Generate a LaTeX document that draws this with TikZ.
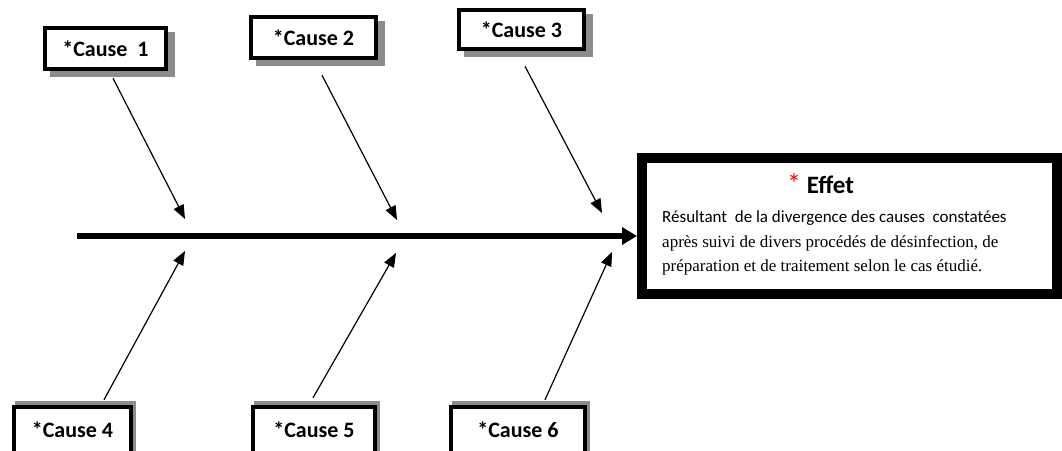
\documentclass[tikz,border=0pt]{standalone}
\usepackage{fontspec}
\setmainfont{Carlito}
\newfontfamily\tnr{Liberation Serif}
\usetikzlibrary{arrows.meta,backgrounds}
\tikzset{
  causebox/.style={draw=black, line width=4.5pt, fill=white, inner sep=0pt,
    font=\fontsize{22}{26}\selectfont\bfseries, minimum height=41pt},
  shadowfill/.style={fill=black!45},
  causearrow/.style={line width=1.2pt, -{Triangle[length=14pt,width=11pt]}},
  spinearrow/.style={line width=6pt, -{Triangle[length=15pt,width=17pt]}},
  effetbox/.style={draw=black, line width=10pt, fill=white, minimum width=415pt, minimum height=136pt, inner sep=0pt},
  bodysans/.style={anchor=base west, inner sep=0pt, font=\fontsize{17}{20}\selectfont},
  bodyserif/.style={anchor=base west, inner sep=0pt, font=\tnr\fontsize{17}{20}\selectfont},
}
\begin{document}
\begin{tikzpicture}[x=1pt,y=-1pt]
\useasboundingbox (0,0) rectangle (1062,450);
\clip (0,0) rectangle (1062,450);

% cause boxes
\node[causebox, minimum width=121pt] (c1) at (105.5,48.5) {*Cause\ \ 1};
\node[causebox, minimum width=125pt] (c2) at (313.5,37.5) {*Cause 2};
\node[causebox, minimum width=125pt, minimum height=39pt] (c3) at (521.5,29.5) {*Cause 3};
\node[causebox, minimum width=117pt, minimum height=46pt] (c4) at (72.5,430) {*Cause 4\hspace{8pt}};
\node[causebox, minimum width=122pt, minimum height=46pt] (c5) at (314,430) {*Cause 5};
\node[causebox, minimum width=134pt, minimum height=46pt] (c6) at (518,430) {*Cause 6};

\begin{scope}[on background layer]
  \fill[white] (0,0) rectangle (1062,450);
  \foreach \n in {c1,c2,c3}
    \fill[shadowfill] ([shift={(7,6)}]\n.north west) rectangle ([shift={(7,6)}]\n.south east);
  \foreach \n in {c4,c5,c6}
    \fill[shadowfill] ([shift={(3,-4)}]\n.north west) rectangle ([shift={(3,-4)}]\n.south east);
\end{scope}

% effect box
\node[effetbox] (eff) at (849.5,226) {};
\node[anchor=base west, inner sep=0pt, font=\fontsize{25}{29}\selectfont] (efftitle) at (787,193)
  {{\color{red}\fontsize{28}{30}\selectfont*}\ \textbf{Effet}};
\node[bodysans] (l1) at (662,222) {Résultant\ \ de la divergence des causes\ \ constatées};
\node[bodyserif] (l2) at (662,247) {après suivi de divers procédés de désinfection, de};
\node[bodyserif] (l3) at (662,271) {préparation et de traitement selon le cas étudié.};

% spine
\coordinate (tail) at (77,236);
\draw[spinearrow] (tail) -- (tail -| eff.west);

% cause arrows
\coordinate (s1) at ([shift={(7.5,7)}]c1.south);
\coordinate (s2) at ([shift={(8.5,15)}]c2.south);
\coordinate (s3) at ([shift={(3.5,15)}]c3.south);
\coordinate (s4) at ([shift={(31.5,-5)}]c4.north);
\coordinate (s5) at ([shift={(-1,-7)}]c5.north);
\coordinate (s6) at ([shift={(27,-5)}]c6.north);
\coordinate (t1) at (185,219);
\coordinate (t2) at (397,220);
\coordinate (t3) at (602,213);
\coordinate (t4) at (185,251);
\coordinate (t5) at (396,253);
\coordinate (t6) at (612,252);
\foreach \i in {1,...,6}
  \draw[causearrow] (s\i) -- (t\i);
\end{tikzpicture}
\end{document}
